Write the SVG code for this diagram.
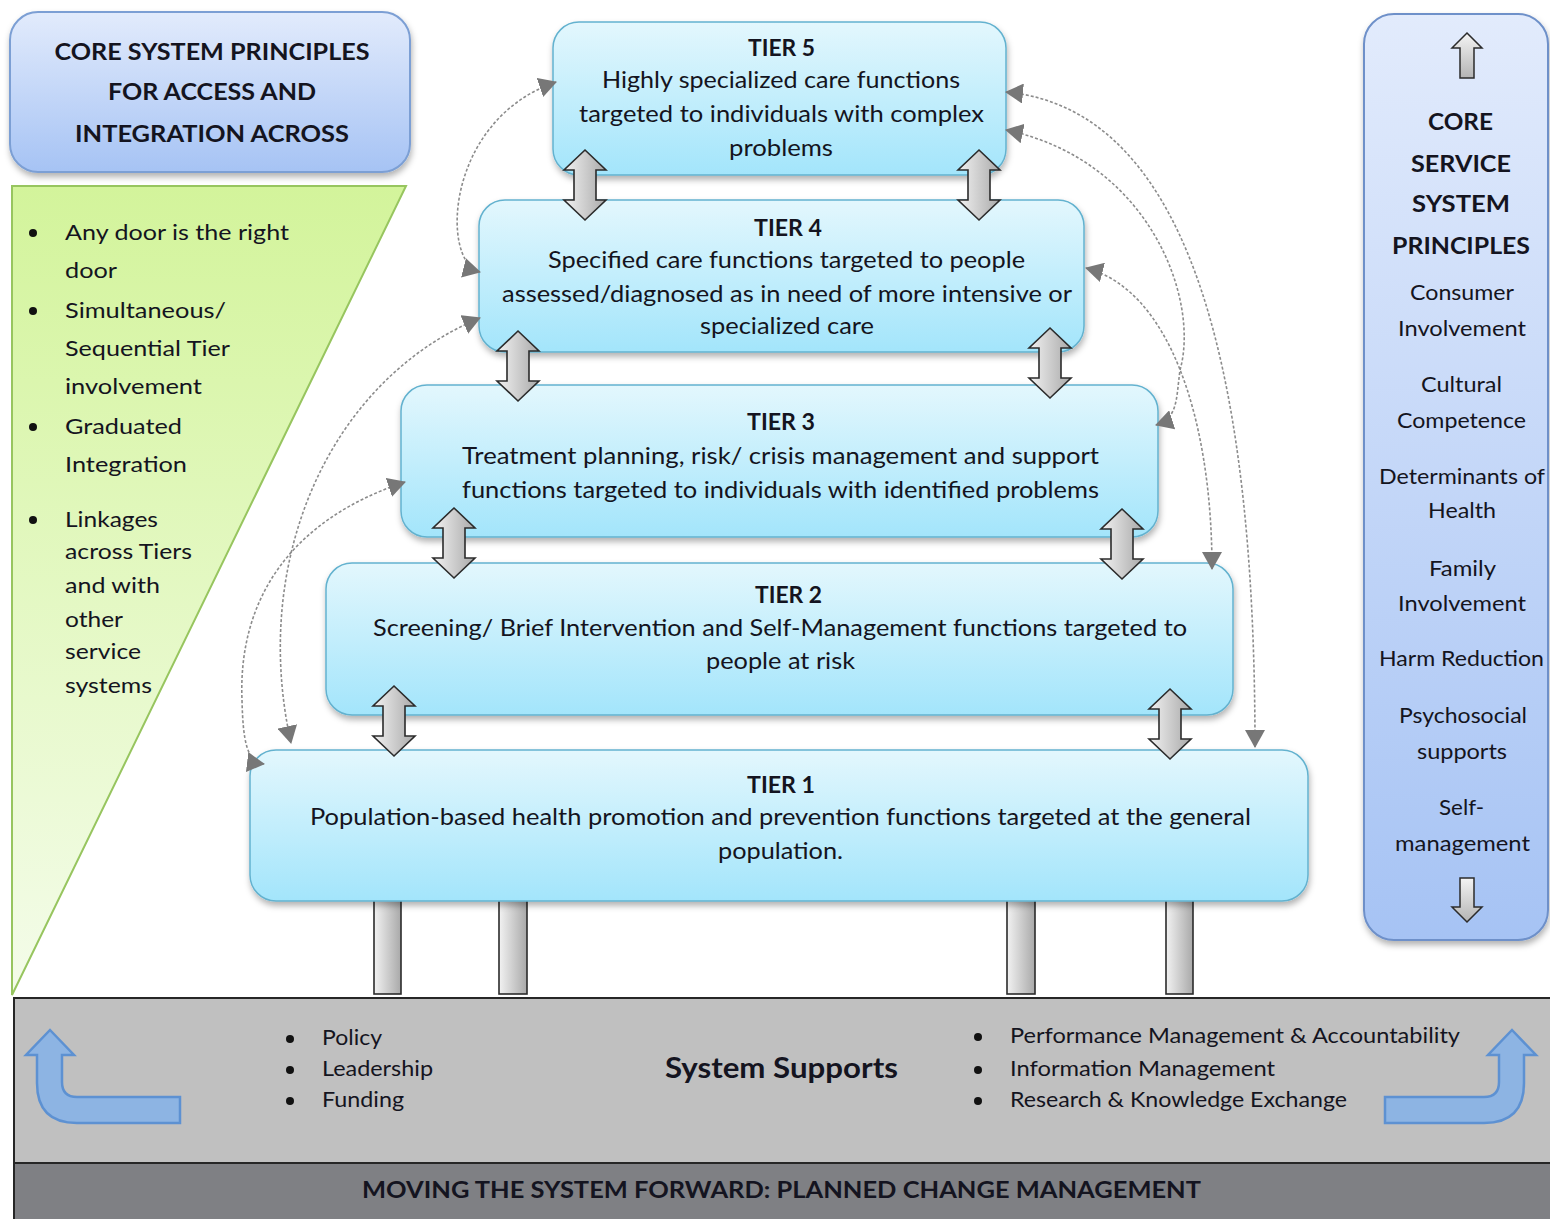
<svg xmlns="http://www.w3.org/2000/svg" width="1550" height="1219" viewBox="0 0 1550 1219">
  <defs>
    <linearGradient id="gBlue" x1="0" y1="0" x2="0" y2="1">
      <stop offset="0" stop-color="#e2ebfc"/>
      <stop offset="1" stop-color="#a6c3f4"/>
    </linearGradient>
    <linearGradient id="gTier" x1="0" y1="0" x2="0" y2="1">
      <stop offset="0" stop-color="#e3f7fd"/>
      <stop offset="1" stop-color="#a3e5fb"/>
    </linearGradient>
    <linearGradient id="gGreen" x1="0" y1="0" x2="0" y2="1">
      <stop offset="0" stop-color="#d3f49b"/>
      <stop offset="1" stop-color="#f4fcea"/>
    </linearGradient>
    <linearGradient id="gSteel" x1="0" y1="0" x2="1" y2="0">
      <stop offset="0" stop-color="#f2f2f2"/>
      <stop offset="1" stop-color="#a9a9a9"/>
    </linearGradient>
    <linearGradient id="gSteelV" x1="0" y1="0" x2="0" y2="1">
      <stop offset="0" stop-color="#f4f4f4"/>
      <stop offset="1" stop-color="#b4b4b4"/>
    </linearGradient>
    <filter id="shadow" x="-5%" y="-10%" width="110%" height="125%">
      <feDropShadow dx="1" dy="4" stdDeviation="3" flood-color="#000" flood-opacity="0.3"/>
    </filter>
    <marker id="tri" viewBox="0 0 18 20" refX="17" refY="10" markerWidth="18" markerHeight="20" markerUnits="userSpaceOnUse" orient="auto-start-reverse">
      <path d="M0,0 L18,10 L0,20 Z" fill="#777"/>
    </marker>
    <!-- two-way arrow linking neighbouring tiers, 70 high -->
    <path id="dbl" d="M0,0 L21,20 L11,20 L11,50 L21,50 L0,70 L-21,50 L-11,50 L-11,20 L-21,20 Z"/>
    <style>
      text { font-family: Lato, "Open Sans", "Liberation Sans", sans-serif; fill: #141420; }
      .b { font-weight: bold; }
      .t { font-size: 23px; text-anchor: middle; }
      .h { font-size: 23px; font-weight: bold; text-anchor: middle; }
      .l { font-size: 22px; }
      .r { font-size: 21px; text-anchor: middle; }
      .s { font-size: 21px; }
      .tier { fill: url(#gTier); stroke: #63b2cf; stroke-width: 1.5; filter: url(#shadow); }
      .dbl { fill: url(#gSteel); stroke: #2b2b2b; stroke-width: 1.6; }
      .pillar { fill: url(#gSteel); stroke: #2b2b2b; stroke-width: 1.6; }
      .link { fill: none; stroke: #8c8c8c; stroke-width: 1.6; stroke-dasharray: 3 2; marker-start: url(#tri); marker-end: url(#tri); }
      .bend { fill: #8db4e3; stroke: #5d91d2; stroke-width: 2.5; }
      .dot { fill: #111; }
    </style>
  </defs>

  <rect width="1550" height="1219" fill="#ffffff"/>

  <!-- header box, upper left -->
  <g id="access-header">
    <rect x="10" y="12" width="400" height="160" rx="28" fill="url(#gBlue)" stroke="#7c9fd4" stroke-width="2" filter="url(#shadow)"/>
    <text class="h" x="212" y="60" textLength="315" lengthAdjust="spacingAndGlyphs">CORE SYSTEM PRINCIPLES</text>
    <text class="h" x="212" y="100" textLength="208" lengthAdjust="spacingAndGlyphs">FOR ACCESS AND</text>
    <text class="h" x="212" y="142" textLength="274" lengthAdjust="spacingAndGlyphs">INTEGRATION ACROSS</text>
  </g>

  <!-- access principles wedge -->
  <g id="access-principles">
    <polygon points="12,186 406,186 12,995" fill="url(#gGreen)" stroke="#97c55f" stroke-width="2"/>
    <circle class="dot" cx="33" cy="233" r="4"/>
    <circle class="dot" cx="33" cy="311" r="4"/>
    <circle class="dot" cx="33" cy="427" r="4"/>
    <circle class="dot" cx="33" cy="520" r="4"/>
    <text class="l" x="65" y="240" textLength="224" lengthAdjust="spacingAndGlyphs">Any door is the right</text>
    <text class="l" x="65" y="278" textLength="52" lengthAdjust="spacingAndGlyphs">door</text>
    <text class="l" x="65" y="318" textLength="161" lengthAdjust="spacingAndGlyphs">Simultaneous/</text>
    <text class="l" x="65" y="356" textLength="165" lengthAdjust="spacingAndGlyphs">Sequential Tier</text>
    <text class="l" x="65" y="394" textLength="137" lengthAdjust="spacingAndGlyphs">involvement</text>
    <text class="l" x="65" y="434" textLength="117" lengthAdjust="spacingAndGlyphs">Graduated</text>
    <text class="l" x="65" y="472" textLength="122" lengthAdjust="spacingAndGlyphs">Integration</text>
    <text class="l" x="65" y="527" textLength="93" lengthAdjust="spacingAndGlyphs">Linkages</text>
    <text class="l" x="65" y="559" textLength="127" lengthAdjust="spacingAndGlyphs">across Tiers</text>
    <text class="l" x="65" y="593" textLength="95" lengthAdjust="spacingAndGlyphs">and with</text>
    <text class="l" x="65" y="627" textLength="58" lengthAdjust="spacingAndGlyphs">other</text>
    <text class="l" x="65" y="659" textLength="76" lengthAdjust="spacingAndGlyphs">service</text>
    <text class="l" x="65" y="693" textLength="87" lengthAdjust="spacingAndGlyphs">systems</text>
  </g>

  <!-- pillars carrying tier 1 -->
  <g id="pillars">
    <rect class="pillar" x="374" y="898" width="27" height="96"/>
    <rect class="pillar" x="499" y="898" width="28" height="96"/>
    <rect class="pillar" x="1007" y="898" width="28" height="96"/>
    <rect class="pillar" x="1166" y="898" width="27" height="96"/>
  </g>

  <g id="tier1">
    <rect class="tier" x="250" y="750" width="1058" height="151" rx="26"/>
    <text class="h" x="781" y="793" textLength="68" lengthAdjust="spacingAndGlyphs">TIER 1</text>
    <text class="t" x="780.5" y="825" textLength="941" lengthAdjust="spacingAndGlyphs">Population-based health promotion and prevention functions targeted at the general</text>
    <text class="t" x="780.5" y="859" textLength="125" lengthAdjust="spacingAndGlyphs">population.</text>
  </g>

  <g id="tier2">
    <rect class="tier" x="326" y="563" width="907" height="152" rx="26"/>
    <text class="h" x="788.5" y="603" textLength="67" lengthAdjust="spacingAndGlyphs">TIER 2</text>
    <text class="t" x="780" y="636" textLength="814" lengthAdjust="spacingAndGlyphs">Screening/ Brief Intervention and Self-Management functions targeted to</text>
    <text class="t" x="780.5" y="669" textLength="149" lengthAdjust="spacingAndGlyphs">people at risk</text>
  </g>

  <g id="tier3">
    <rect class="tier" x="401" y="385" width="757" height="152" rx="26"/>
    <text class="h" x="781" y="430" textLength="68" lengthAdjust="spacingAndGlyphs">TIER 3</text>
    <text class="t" x="780.5" y="464" textLength="637" lengthAdjust="spacingAndGlyphs">Treatment planning, risk/ crisis management and support</text>
    <text class="t" x="780.5" y="498" textLength="637" lengthAdjust="spacingAndGlyphs">functions targeted to individuals with identified problems</text>
  </g>

  <g id="tier4">
    <rect class="tier" x="479" y="200" width="605" height="152" rx="26"/>
    <text class="h" x="788" y="236" textLength="68" lengthAdjust="spacingAndGlyphs">TIER 4</text>
    <text class="t" x="786.5" y="268" textLength="477" lengthAdjust="spacingAndGlyphs">Specified care functions targeted to people</text>
    <text class="t" x="787" y="302" textLength="570" lengthAdjust="spacingAndGlyphs">assessed/diagnosed as in need of more intensive or</text>
    <text class="t" x="787" y="334" textLength="174" lengthAdjust="spacingAndGlyphs">specialized care</text>
  </g>

  <g id="tier5">
    <rect class="tier" x="553" y="22" width="453" height="153" rx="26"/>
    <text class="h" x="781.5" y="56" textLength="67" lengthAdjust="spacingAndGlyphs">TIER 5</text>
    <text class="t" x="781" y="88" textLength="358" lengthAdjust="spacingAndGlyphs">Highly specialized care functions</text>
    <text class="t" x="781.5" y="122" textLength="405" lengthAdjust="spacingAndGlyphs">targeted to individuals with complex</text>
    <text class="t" x="781" y="156" textLength="104" lengthAdjust="spacingAndGlyphs">problems</text>
  </g>

  <!-- service principles column, right -->
  <g id="service-principles">
    <rect x="1364" y="14" width="184" height="926" rx="30" fill="url(#gBlue)" stroke="#6e90c9" stroke-width="2" filter="url(#shadow)"/>
    <path d="M1467,33 L1482,48 L1474,48 L1474,78 L1460,78 L1460,48 L1452,48 Z" fill="url(#gSteelV)" stroke="#2b2b2b" stroke-width="1.5"/>
    <path d="M1467,922 L1482,907 L1474,907 L1474,878 L1460,878 L1460,907 L1452,907 Z" fill="url(#gSteelV)" stroke="#2b2b2b" stroke-width="1.5"/>
    <text class="h" x="1460.5" y="130" textLength="65" lengthAdjust="spacingAndGlyphs">CORE</text>
    <text class="h" x="1461" y="172" textLength="100" lengthAdjust="spacingAndGlyphs">SERVICE</text>
    <text class="h" x="1461" y="212" textLength="98" lengthAdjust="spacingAndGlyphs">SYSTEM</text>
    <text class="h" x="1461" y="254" textLength="138" lengthAdjust="spacingAndGlyphs">PRINCIPLES</text>
    <text class="r" x="1462" y="300" textLength="104" lengthAdjust="spacingAndGlyphs">Consumer</text>
    <text class="r" x="1462" y="336" textLength="128" lengthAdjust="spacingAndGlyphs">Involvement</text>
    <text class="r" x="1461.5" y="392" textLength="81" lengthAdjust="spacingAndGlyphs">Cultural</text>
    <text class="r" x="1461.5" y="428" textLength="129" lengthAdjust="spacingAndGlyphs">Competence</text>
    <text class="r" x="1462" y="484" textLength="166" lengthAdjust="spacingAndGlyphs">Determinants of</text>
    <text class="r" x="1462" y="518" textLength="68" lengthAdjust="spacingAndGlyphs">Health</text>
    <text class="r" x="1462.5" y="576" textLength="67" lengthAdjust="spacingAndGlyphs">Family</text>
    <text class="r" x="1462" y="611" textLength="128" lengthAdjust="spacingAndGlyphs">Involvement</text>
    <text class="r" x="1461.5" y="666" textLength="165" lengthAdjust="spacingAndGlyphs">Harm Reduction</text>
    <text class="r" x="1463" y="723" textLength="128" lengthAdjust="spacingAndGlyphs">Psychosocial</text>
    <text class="r" x="1462" y="759" textLength="90" lengthAdjust="spacingAndGlyphs">supports</text>
    <text class="r" x="1461.5" y="815" textLength="45" lengthAdjust="spacingAndGlyphs">Self-</text>
    <text class="r" x="1462.5" y="851" textLength="135" lengthAdjust="spacingAndGlyphs">management</text>
  </g>

  <!-- system supports band -->
  <g id="system-supports">
    <rect x="14" y="998" width="1540" height="165" fill="#c0c0c0" stroke="#262626" stroke-width="2"/>
    <path class="bend" d="M50,1030 L74,1055 L62,1055 L62,1082 Q62,1097 77,1097 L180,1097 L180,1123 L77,1123 Q37,1123 37,1083 L37,1055 L26,1055 Z"/>
    <path class="bend" d="M1512,1030 L1536,1055 L1524,1055 L1524,1083 Q1524,1123 1484,1123 L1385,1123 L1385,1097 L1484,1097 Q1499,1097 1499,1082 L1499,1055 L1488,1055 Z"/>
    <circle class="dot" cx="290" cy="1039" r="4"/>
    <circle class="dot" cx="290" cy="1070" r="4"/>
    <circle class="dot" cx="290" cy="1101" r="4"/>
    <text class="s" x="322" y="1045" textLength="60" lengthAdjust="spacingAndGlyphs">Policy</text>
    <text class="s" x="322" y="1076" textLength="111" lengthAdjust="spacingAndGlyphs">Leadership</text>
    <text class="s" x="322" y="1107" textLength="82" lengthAdjust="spacingAndGlyphs">Funding</text>
    <text class="b" x="781.5" y="1078" font-size="28" text-anchor="middle" textLength="233" lengthAdjust="spacingAndGlyphs">System Supports</text>
    <circle class="dot" cx="978" cy="1037" r="4"/>
    <circle class="dot" cx="978" cy="1070" r="4"/>
    <circle class="dot" cx="978" cy="1101" r="4"/>
    <text class="s" x="1010" y="1043" textLength="450" lengthAdjust="spacingAndGlyphs">Performance Management &amp; Accountability</text>
    <text class="s" x="1010" y="1076" textLength="265" lengthAdjust="spacingAndGlyphs">Information Management</text>
    <text class="s" x="1010" y="1107" textLength="337" lengthAdjust="spacingAndGlyphs">Research &amp; Knowledge Exchange</text>
  </g>

  <g id="change-management">
    <rect x="14" y="1163" width="1540" height="60" fill="#7f8084" stroke="#262626" stroke-width="2"/>
    <text class="b" x="781.5" y="1198" font-size="22" text-anchor="middle" textLength="839" lengthAdjust="spacingAndGlyphs">MOVING THE SYSTEM FORWARD: PLANNED CHANGE MANAGEMENT</text>
  </g>

  <!-- connectors: two-way arrows between adjacent tiers and dashed cross-tier links -->
  <g id="connectors">
    <use href="#dbl" class="dbl" x="585" y="150"/>
    <use href="#dbl" class="dbl" x="979" y="150"/>
    <use href="#dbl" class="dbl" x="518" y="331"/>
    <use href="#dbl" class="dbl" x="1050" y="328"/>
    <use href="#dbl" class="dbl" x="454" y="508"/>
    <use href="#dbl" class="dbl" x="1122" y="509"/>
    <use href="#dbl" class="dbl" x="394" y="686"/>
    <use href="#dbl" class="dbl" x="1170" y="689"/>

    <path class="link" d="M480,272 C440,262 445,120 556,82"/>
    <path class="link" d="M480,318 C330,380 250,560 291,743"/>
    <path class="link" d="M405,482 C290,520 238,600 242,700 C243,742 247,762 264,764"/>
    <path class="link" d="M1006,92 C1200,110 1255,400 1255,747"/>
    <path class="link" d="M1006,130 C1150,160 1200,300 1180,370 C1176,400 1178,418 1156,425"/>
    <path class="link" d="M1086,268 C1170,290 1212,420 1212,569"/>
  </g>
</svg>
